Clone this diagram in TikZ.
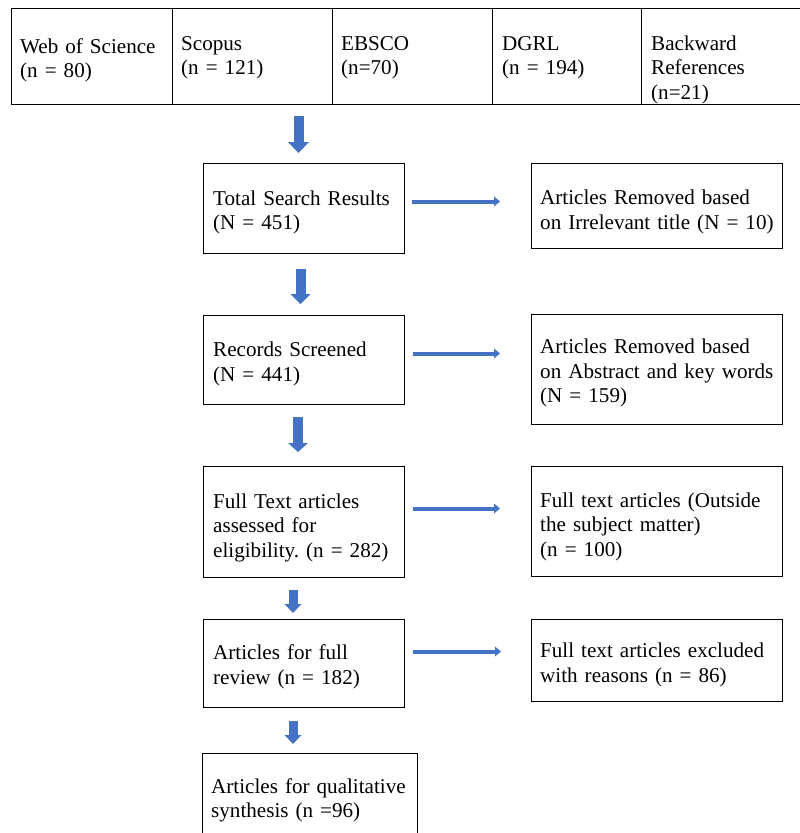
\documentclass[tikz,border=0pt]{standalone}
\usepackage{fontspec}
\setmainfont{Liberation Serif}
\usetikzlibrary{arrows.meta}
\definecolor{arrowblue}{HTML}{4472C4}
\frenchspacing
\begin{document}
\begin{tikzpicture}[x=1pt,y=-1pt,
  box/.style={draw=black, line width=1pt, inner sep=0pt, anchor=north west},
  txt/.style={anchor=north west, inner sep=0pt, align=left, text width=270pt,
              font=\fontsize{21.1}{24.5}\selectfont\frenchspacing},
  bigarrow/.style n args={3}{draw=arrowblue, line width=#1,
              -{Triangle[width=#2,length=#3,line width=0pt]}},
  harrow/.style={draw=arrowblue, line width=4pt,
              -{Triangle[width=10pt,length=6pt,line width=0pt]}}
]
\useasboundingbox (0,0) rectangle (800,833);

% top row of sources
\node[box, minimum width=161pt, minimum height=96pt] (src1) at (11,8) {};
\node[box, minimum width=160pt, minimum height=96pt] (src2) at (172,8) {};
\node[box, minimum width=160pt, minimum height=96pt] (src3) at (332,8) {};
\node[box, minimum width=149pt, minimum height=96pt] (src4) at (492,8) {};
\node[box, minimum width=175pt, minimum height=96pt] (src5) at (641,8) {};

\node[txt] (s1t) at (20,35.85) {\strut Web of Science\\(n = 80)};
\node[txt] (s2t) at (181,32.85) {\strut Scopus\\(n = 121)};
\node[txt] (s3t) at (341,32.85) {\strut EBSCO\\(n=70)};
\node[txt] (s4t) at (502,32.85) {\strut DGRL\\(n = 194)};
\node[txt] (s5t) at (651,32.85) {\strut Backward\\References\\(n=21)};

% main column
\node[box, minimum width=201pt, minimum height=90pt] (b1) at (203,163) {};
\node[box, minimum width=201pt, minimum height=89pt] (b2) at (203,315) {};
\node[box, minimum width=201pt, minimum height=111pt] (b3) at (203,466) {};
\node[box, minimum width=201pt, minimum height=88pt] (b4) at (203,619) {};
\node[box, minimum width=215pt, minimum height=110pt] (b5) at (202,753) {};

\node[txt] (b1t) at (213,187.85) {\strut Total Search Results\\(N = 451)};
\node[txt] (b2t) at (213,339.35) {\strut Records Screened\\(N = 441)};
\node[txt] (b3t) at (213,490.85) {\strut Full Text articles\\assessed for\\eligibility. (n = 282)};
\node[txt] (b4t) at (213,642.35) {\strut Articles for full\\review (n = 182)};
\node[txt] (b5t) at (211,775.85) {\strut Articles for qualitative\\synthesis (n =96)};

% excluded column
\node[box, minimum width=251pt, minimum height=85pt] (r1) at (531,163) {};
\node[box, minimum width=251pt, minimum height=110pt] (r2) at (531,314) {};
\node[box, minimum width=251pt, minimum height=110pt] (r3) at (531,466) {};
\node[box, minimum width=251pt, minimum height=82pt] (r4) at (531,619) {};

\node[txt] (r1t) at (540,187.35) {\strut Articles Removed based\\on Irrelevant title (N = 10)};
\node[txt] (r2t) at (540,336.35) {\strut Articles Removed based\\on Abstract and key words\\(N = 159)};
\node[txt] (r3t) at (540,489.85) {\strut Full text articles (Outside\\the subject matter)\\(n = 100)};
\node[txt] (r4t) at (540,640.35) {\strut Full text articles excluded\\with reasons (n = 86)};

% vertical block arrows
\draw[bigarrow={10pt}{21pt}{11pt}, shorten <=11pt, shorten >=10pt]
  ([xshift=-5.5pt]b1.north |- src3.south) -- ([xshift=-5.5pt]b1.north);
\draw[bigarrow={10pt}{20pt}{10pt}, shorten <=15pt, shorten >=11pt]
  ([xshift=-3.5pt]b1.south) -- ([xshift=-3.5pt]b1.south |- b2.north);
\draw[bigarrow={9.5pt}{20pt}{9pt}, shorten <=12pt, shorten >=14pt]
  ([xshift=-6pt]b2.south) -- ([xshift=-6pt]b2.south |- b3.north);
\draw[bigarrow={9pt}{17pt}{9pt}, shorten <=12pt, shorten >=6pt]
  ([xshift=-11pt]b3.south) -- ([xshift=-11pt]b3.south |- b4.north);
\draw[bigarrow={9pt}{17pt}{9pt}, shorten <=13pt, shorten >=9pt]
  ([xshift=-11pt]b4.south) -- ([xshift=-11pt]b4.south |- b5.north);

% horizontal arrows
\draw[harrow, shorten <=7pt, shorten >=31pt]
  ([yshift=7pt]b1.east) -- ([yshift=7pt]b1.east -| r1.west);
\draw[harrow, shorten <=8pt, shorten >=31pt]
  ([yshift=6.5pt]b2.east) -- ([yshift=6.5pt]b2.east -| r2.west);
\draw[harrow, shorten <=8pt, shorten >=31pt]
  ([yshift=13.5pt]b3.east) -- ([yshift=13.5pt]b3.east -| r3.west);
\draw[harrow, shorten <=8pt, shorten >=30pt]
  ([yshift=12pt]b4.east) -- ([yshift=12pt]b4.east -| r4.west);
\end{tikzpicture}
\end{document}
